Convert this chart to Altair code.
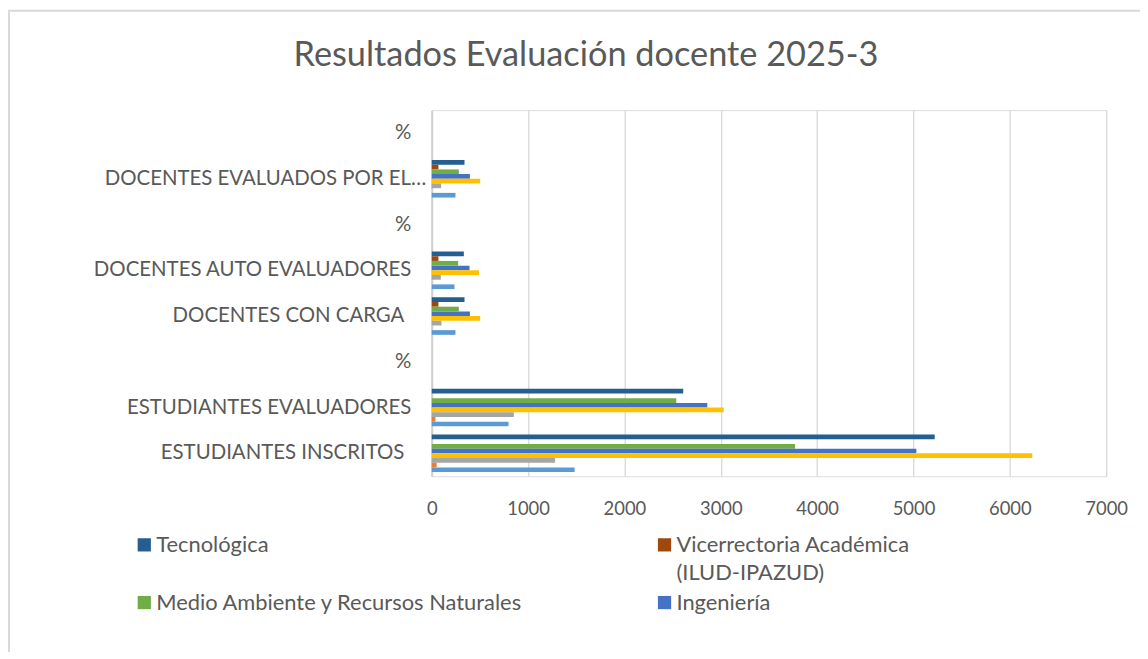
import altair as alt
import pandas as pd

FONT = "Lato"

# category keys (top to bottom); text after "_" is only a key suffix and is not shown
categories = [
    "%_3",
    "DOCENTES EVALUADOS POR EL…",
    "%_2",
    "DOCENTES AUTO EVALUADORES",
    "DOCENTES CON CARGA_t",
    "%_1",
    "ESTUDIANTES EVALUADORES",
    "ESTUDIANTES INSCRITOS_t",
]

series = [
    "Tecnológica",
    "Vicerrectoria Académica (ILUD-IPAZUD)",
    "Medio Ambiente y Recursos Naturales",
    "Ingeniería",
    "Ciencias y Educación",
    "Artes ASAB",
    "Ciencias de la Salud",
    "Ciencias Matemáticas y Naturales",
]
colors = ["#255E91", "#9E480E", "#70AD47", "#4472C4", "#FFC000", "#A5A5A5", "#ED7D31", "#5B9BD5"]

# values per series, in category order (top to bottom); None = not visible
tecnologica = [None, 340, None, 333, 340, None, 2610, 5220]
vicerrectoria = [None, 69, None, 69, 69, None, 0, 0]
medio_ambiente = [None, 281, None, 274, 281, None, 2538, 3771]
ingenieria = [None, 396, None, 392, 396, None, 2860, 5030]
ciencias_educacion = [None, 503, None, 490, 503, None, 3030, 6233]
artes = [None, 97, None, 94, 101, None, 852, 1280]
salud = [None, 0, None, 0, 0, None, 38, 51]
matematicas = [None, 246, None, 236, 246, None, 797, 1483]

values = [tecnologica, vicerrectoria, medio_ambiente, ingenieria,
          ciencias_educacion, artes, salud, matematicas]

rows = []
for s, vals in zip(series, values):
    for c, v in zip(categories, vals):
        if v is not None and v > 0:
            rows.append({"categoria": c, "serie": s, "valor": v})
df = pd.DataFrame(rows)

legend_values = series[:4]

legend_label_expr = (
    "datum.label == 'Vicerrectoria Académica (ILUD-IPAZUD)' ? "
    "['Vicerrectoria Académica', '(ILUD-IPAZUD)'] : "
    "(datum.label == 'Tecnológica' ? ['Tecnológica', ''] : datum.label)"
)

bars = alt.Chart(df).mark_bar().encode(
    x=alt.X(
        "valor:Q",
        scale=alt.Scale(domain=[0, 7000], nice=False),
        axis=alt.Axis(
            values=list(range(0, 7001, 1000)), format="d", title=None, domain=False, ticks=False,
            grid=True, gridColor="#D9D9D9", gridWidth=1.3, labelFlush=False,
            labelFontSize=18.5, labelColor="#595959", labelPadding=23, labelFont=FONT,
        ),
    ),
    y=alt.Y(
        "categoria:N",
        scale=alt.Scale(domain=categories, paddingInner=0.18, paddingOuter=0.09),
        axis=alt.Axis(
            title=None, ticks=False, domain=True, domainColor="#D0D0D0", domainWidth=2,
            labelFontSize=20.5, labelColor="#595959", labelFont=FONT,
            labelPadding={
                "condition": [
                    {"test": "indexof(datum.value, '…') >= 0", "value": 6},
                    {"test": "indexof(datum.value, '_t') >= 0", "value": 28},
                ],
                "value": 21,
            },
            labelExpr="split(datum.label, '_')[0]", labelLimit=600, grid=False,
        ),
    ),
    yOffset=alt.YOffset("serie:N", scale=alt.Scale(domain=series)),
    color=alt.Color(
        "serie:N",
        scale=alt.Scale(domain=series, range=colors),
        legend=alt.Legend(
            title=None, values=legend_values, orient="none", direction="horizontal",
            legendX=-305, legendY=426,
            columns=2, columnPadding=126, rowPadding=8, padding=0,
            symbolType="square", symbolSize=177, symbolStrokeWidth=0,
            symbolOffset=5, labelOffset=1,
            labelFontSize=22, labelColor="#595959", labelFont=FONT, labelLimit=700,
            labelExpr=legend_label_expr,
        ),
    ),
)

frame_data = alt.Data(values=[{"k": 1}])
left_line = alt.Chart(frame_data).mark_rule(color="#D9D9D9", strokeWidth=2).encode(
    x=alt.value(-425), y=alt.value(-99), y2=alt.value(560)
)
top_line = alt.Chart(frame_data).mark_rule(color="#D9D9D9", strokeWidth=2).encode(
    x=alt.value(-426), x2=alt.value(720), y=alt.value(-100)
)

chart = alt.layer(bars, left_line, top_line).properties(
    width=678,
    height=368,
    autosize=alt.AutoSizeParams(type="none"),
    padding={"left": 426, "top": 101, "right": 34, "bottom": 175},
    title=alt.TitleParams(
        "Resultados Evaluación docente 2025-3", fontSize=34.5, font=FONT, color="#595959",
        fontWeight="normal", anchor="middle", frame="group", dx=-184, offset=-64,
    ),
).configure_view(stroke=None).configure(
    background="white", style={"guide-label": {"lineHeight": 28}}
)

chart.save("out.html", embed_options={"renderer": "svg", "actions": False})
